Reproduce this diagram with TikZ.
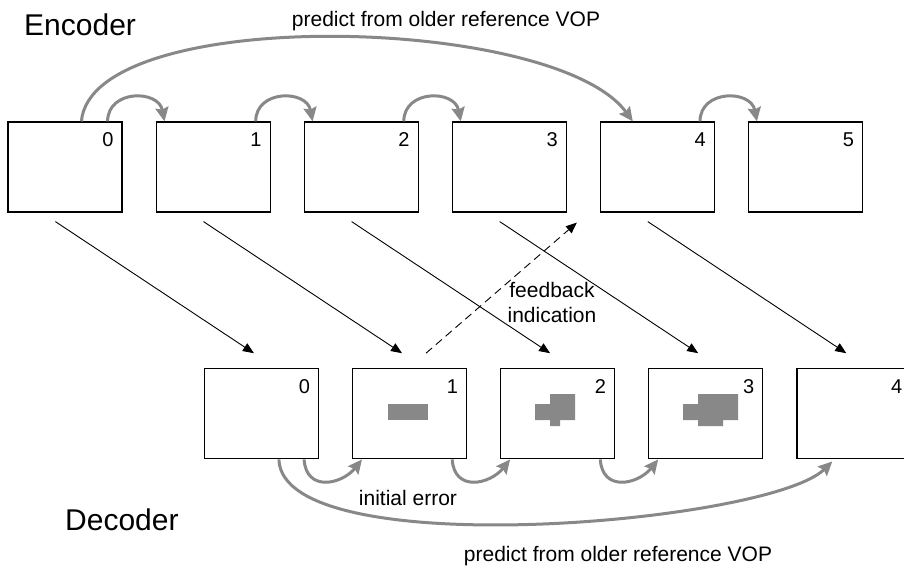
\documentclass[tikz,border=0pt]{standalone}
\usepackage{fontspec}
\setmainfont{Liberation Sans}
\usetikzlibrary{arrows.meta,calc}
\definecolor{predgray}{RGB}{136,136,136}

\begin{document}
\begin{tikzpicture}[
  x=1pt,
  y=-1pt,
  vopbox/.style={draw, line width=1.2pt, minimum width=114pt, minimum height=90pt, inner sep=0pt},
  vopnum/.style={font=\fontsize{20}{22}\selectfont, anchor=base east, inner sep=0pt},
  sidelabel/.style={font=\fontsize{30}{34}\selectfont, anchor=base west, inner sep=0pt},
  note/.style={font=\fontsize{21}{25}\selectfont, inner sep=0pt},
  predarrow/.style={draw=predgray, line width=3pt, -{Stealth[length=14pt,width=13pt,inset=2pt]}},
  sendarrow/.style={line width=0.9pt, -{Triangle[length=11pt,width=9pt]}},
  errblob/.style={fill=predgray, draw=none}
]

% White background
\useasboundingbox (0,0) rectangle (904,579);
\clip (0,0) rectangle (904,579);
\fill[white] (0,0) rectangle (904,579);

% Encoder VOPs
\foreach \i in {0,...,5} {
  \node[vopbox] (enc\i) at (65+148.1*\i,167) {};
  \node[vopnum] (encn\i) at ($(enc\i.north east)+(-9,25)$) {\i};
}

% Decoder VOPs
\foreach \i in {0,...,4} {
  \node[vopbox] (dec\i) at (261.5+148.1*\i,413.8) {};
  \node[vopnum] (decn\i) at ($(dec\i.north east)+(-9,25)$) {\i};
}

% Error areas
\fill[errblob] (388,404) rectangle (428,420);
\fill[errblob] (535,404) -- (550,404) -- (550,394) -- (575,394) -- (575,420) -- (560,420)
  -- (560,426) -- (550,426) -- (550,420) -- (535,420) -- cycle;
\fill[errblob] (683,404) -- (698,404) -- (698,394) -- (738,394) -- (738,420) -- (723,420)
  -- (723,426) -- (698,426) -- (698,420) -- (683,420) -- cycle;

% Transmission
\foreach \i in {0,...,4} {
  \draw[sendarrow] ($(enc\i.south west)+(48,9)$) -- ($(dec\i.north west)+(50,-15)$);
}
\draw[sendarrow, dash pattern=on 8pt off 5pt] ($(dec1.north west)+(74,-15)$) -- ($(enc3.south east)+(10,10)$);

% Prediction in encoder
\foreach \i/\j in {0/1,1/2,2/3,4/5} {
  \draw[predarrow] ($(enc\i.north east)+(-15,0)$) .. controls +(0,-32) and +(-6,-32) .. ($(enc\j.north west)+(9,0)$);
}
\draw[predarrow] ($(enc0.north west)+(74,0)$) .. controls +(10,-117) and +(-78,-107) .. ($(enc4.north west)+(33,0)$);

% Prediction in decoder
\foreach \i/\j in {0/1,1/2,2/3} {
  \draw[predarrow] ($(dec\i.south east)+(-15,0)$) .. controls +(2,33) and +(-20,25) .. ($(dec\j.south west)+(10,0)$);
}
\draw[predarrow] ($(dec0.south west)+(75,0)$) .. controls +(3,106) and +(-63,62) .. ($(dec4.south west)+(36,2)$);

% Labels
\node[sidelabel] (enclabel) at (24,35) {Encoder};
\node[sidelabel] (declabel) at (65,530) {Decoder};
\node[note, anchor=base] (toplabel) at (446,26) {predict from older reference VOP};
\node[note, anchor=base] (botlabel) at (618,561) {predict from older reference VOP};
\node[note, align=center] (fbklabel) at (552,302) {feedback\\indication};
\node[note] (errlabel) at (408,498) {initial error};

\end{tikzpicture}
\end{document}
